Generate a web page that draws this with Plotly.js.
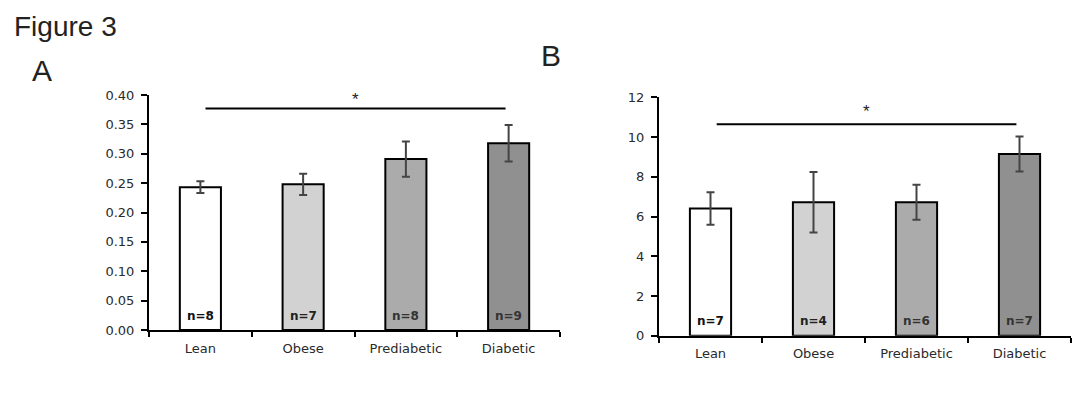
<!DOCTYPE html>
<html>
<head>
<meta charset="utf-8">
<script src="https://cdn.plot.ly/plotly-3.0.1.min.js"></script>
<style>
  html, body { margin: 0; padding: 0; background: #fff; }
  #chart { width: 1090px; height: 395px; }
</style>
</head>
<body>
<div id="chart"></div>
<script>
// ---- data ----
const categories = ['Lean', 'Obese', 'Prediabetic', 'Diabetic'];
const valuesA = [0.243, 0.248, 0.291, 0.318];
const errorsA = [0.010, 0.018, 0.030, 0.031];
const nLabelsA = ['n=8', 'n=7', 'n=8', 'n=9'];
const valuesB = [6.4, 6.72, 6.72, 9.15];
const errorsB = [0.82, 1.52, 0.88, 0.88];
const nLabelsB = ['n=7', 'n=4', 'n=6', 'n=7'];
const barColors = ['#ffffff', '#d2d2d2', '#ababab', '#909090'];
const nTextColors = ['#111111', '#222222', '#333333', '#333333'];
const yTicksA = [0, 0.05, 0.10, 0.15, 0.20, 0.25, 0.30, 0.35, 0.40];
const yTicksB = [0, 2, 4, 6, 8, 10, 12];
// significance bracket: [from category index, to category index, height]
const sigA = [0.05, 2.97, 0.377];
const sigB = [0.06, 2.97, 10.64];
const sigStarA = 0.393;
const sigStarB = 11.27;

const W = 1090, H = 395;
const px = v => v / W;
const py = v => 1 - v / H;

const tickFont = { family: 'DejaVu Sans, Arial, sans-serif', size: 13, color: '#2a2a2a' };

function barTrace(vals, errs, xa, ya) {
  return {
    type: 'bar', x: categories, y: vals, xaxis: xa, yaxis: ya,
    width: 0.4,
    marker: { color: barColors, line: { color: '#000', width: 2 } },
    error_y: { type: 'data', array: errs, visible: true, color: '#444444', thickness: 2, width: 4 },
    hoverinfo: 'skip', showlegend: false
  };
}

const data = [
  barTrace(valuesA, errorsA, 'x', 'y'),
  barTrace(valuesB, errorsB, 'x2', 'y2')
];

function xAxis(domain, anchor) {
  return {
    domain: domain, anchor: anchor, type: 'category',
    range: [-0.5, 3.5],
    showline: true, linecolor: '#000', linewidth: 2,
    ticks: 'outside', tickson: 'boundaries', ticklen: 5, tickwidth: 2, tickcolor: '#000',
    ticklabelstandoff: 5,
    showgrid: false, zeroline: false, tickfont: tickFont, fixedrange: true
  };
}
function yAxis(domain, anchor, range, ticks, fmt) {
  return {
    domain: domain, anchor: anchor, range: range,
    tickmode: 'array', tickvals: ticks, tickformat: fmt,
    showline: true, linecolor: '#000', linewidth: 2,
    ticks: 'outside', ticklen: 6, tickwidth: 2, tickcolor: '#000',
    ticklabelstandoff: 4,
    showgrid: false, zeroline: false, tickfont: tickFont, fixedrange: true
  };
}

const annotations = [];
categories.forEach((c, i) => {
  annotations.push({ xref: 'x', yref: 'y domain', x: c, y: 0.06, text: nLabelsA[i], showarrow: false,
    font: { family: 'DejaVu Sans, Arial, sans-serif', size: 12, color: nTextColors[i], weight: 'bold' }, yanchor: 'middle' });
  annotations.push({ xref: 'x2', yref: 'y2 domain', x: c, y: 0.06, text: nLabelsB[i], showarrow: false,
    font: { family: 'DejaVu Sans, Arial, sans-serif', size: 12, color: nTextColors[i], weight: 'bold' }, yanchor: 'middle' });
});
annotations.push({ xref: 'x', yref: 'y', x: (sigA[0] + sigA[1]) / 2, y: sigStarA, text: '*', showarrow: false,
  font: { family: 'Arial, sans-serif', size: 17, color: '#222' }, yanchor: 'middle' });
annotations.push({ xref: 'x2', yref: 'y2', x: (sigB[0] + sigB[1]) / 2, y: sigStarB, text: '*', showarrow: false,
  font: { family: 'Arial, sans-serif', size: 17, color: '#222' }, yanchor: 'middle' });
annotations.push({ xref: 'paper', yref: 'paper', x: px(12), y: py(26), xanchor: 'left', yanchor: 'middle',
  text: 'Figure 3', showarrow: false, font: { family: 'Liberation Sans, Arial, sans-serif', size: 28, color: '#222' } });
annotations.push({ xref: 'paper', yref: 'paper', x: px(42), y: py(70), xanchor: 'center', yanchor: 'middle',
  text: 'A', showarrow: false, font: { family: 'Liberation Sans, Arial, sans-serif', size: 30, color: '#222' } });
annotations.push({ xref: 'paper', yref: 'paper', x: px(551), y: py(56), xanchor: 'center', yanchor: 'middle',
  text: 'B', showarrow: false, font: { family: 'Liberation Sans, Arial, sans-serif', size: 30, color: '#222' } });

const shapes = [
  { type: 'line', xref: 'x', yref: 'y', x0: sigA[0], x1: sigA[1], y0: sigA[2], y1: sigA[2], line: { color: '#000', width: 2 } },
  { type: 'line', xref: 'x2', yref: 'y2', x0: sigB[0], x1: sigB[1], y0: sigB[2], y1: sigB[2], line: { color: '#000', width: 2 } }
];

const layout = {
  width: W, height: H,
  margin: { l: 0, r: 0, t: 0, b: 0 },
  paper_bgcolor: '#fff', plot_bgcolor: 'rgba(0,0,0,0)',
  showlegend: false,
  xaxis: xAxis([px(149), px(560)], 'y'),
  yaxis: yAxis([py(330), py(95)], 'x', [0, 0.4], yTicksA, '.2f'),
  xaxis2: xAxis([px(659), px(1071)], 'y2'),
  yaxis2: yAxis([py(335.7), py(97.3)], 'x2', [0, 12], yTicksB, 'd'),
  annotations: annotations,
  shapes: shapes
};

Plotly.newPlot('chart', data, layout, { staticPlot: true, displayModeBar: false });
</script>
</body>
</html>
